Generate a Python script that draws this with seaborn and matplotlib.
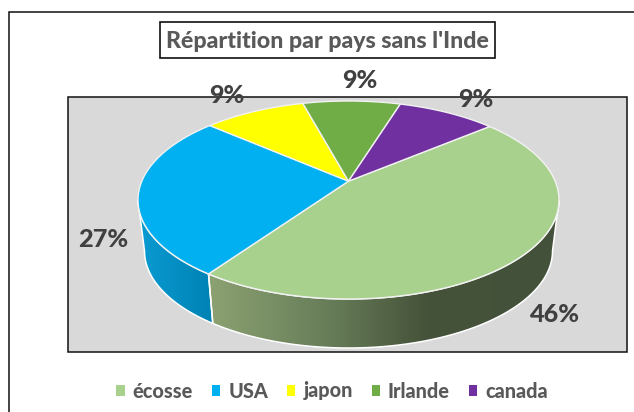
import numpy as np
import matplotlib
matplotlib.use("Agg")
import matplotlib.pyplot as plt
from matplotlib.patches import Patch, Polygon, Rectangle
from matplotlib.colors import to_rgb
import seaborn as sns

countries = ["écosse", "USA", "japon", "Irlande", "canada"]
shares = [45.8, 26.7, 9.4, 9.0, 9.1]
palette_hex = ["#A9D18E", "#00B0F0", "#FFFF00", "#70AD47", "#7030A0"]

title_text = "Répartition par pays sans l'Inde"
label_xy = [(555, 314.5), (103, 239.5), (227, 95.5), (360, 80.5), (476, 99.5)]

sns.set_theme(style="white")
plt.rcParams["font.family"] = ["Lato", "DejaVu Sans"]
colors = sns.color_palette(palette_hex)

fig, ax = plt.subplots(figsize=(6.34, 4.12), dpi=100)
ax.set_position([0, 0, 1, 1])
ax.axis("off")

START = 40.0
K = 0.19
TOP = dict(cx=348.5, cy=200.0, rx=210.5, ry=99.0)
BOT = dict(cx=348.5, cy=251.0, rx=204.0, ry=97.0)


def project(theta_deg, e):
    t = np.radians(theta_deg)
    x, y = np.cos(t), np.sin(t)
    d = 1 + K * y
    u = x * np.sqrt(1 - K ** 2) / d
    v = (y + K) / d
    return e["cx"] + e["rx"] * u, e["cy"] - e["ry"] * v


# frame and plot area
ax.add_patch(Rectangle((9, 12), 660, 440, fc="white", ec="#111111", lw=1.1, zorder=0))
ax.add_patch(Rectangle((68, 97), 559, 255, fc="#D9D9D9", ec="#111111", lw=1.1, zorder=1))

# angles of the slices, clockwise
edges = START - np.cumsum([0] + shares) / sum(shares) * 360.0
silhouette = np.degrees(np.arcsin(-K))

wall_specs = [
    (edges[1], silhouette, [(0.0, "#8CA272"), (0.35, "#667C58"), (0.62, "#46533A"), (1.0, "#44513A")]),
    (-180 - silhouette, edges[1], [(0.0, "#0A9BD2"), (1.0, "#0082B4")]),
]
for a0, a1, stops in wall_specs:
    th = np.linspace(a0, a1, 120)
    tx, ty = project(th, TOP)
    bx, by = project(th, BOT)
    px = np.r_[tx, bx[::-1]]
    py = np.r_[ty, by[::-1]]
    x0, x1 = px.min(), px.max()
    fr = np.linspace(0, 1, 256)
    pos = [s[0] for s in stops]
    rgb = np.array([to_rgb(s[1]) for s in stops])
    grad = np.stack([np.interp(fr, pos, rgb[:, i]) for i in range(3)], axis=-1)
    im = ax.imshow(grad[None, :, :], extent=(x0, x1, py.max(), py.min()),
                   aspect="auto", zorder=2, interpolation="bilinear")
    poly = Polygon(np.c_[px, py], closed=True, transform=ax.transData, fc="none", ec="none")
    ax.add_patch(poly)
    im.set_clip_path(poly)
    ax.add_patch(Polygon(np.c_[px, py], closed=True, fc="none", ec="white", lw=1.1, zorder=3))

# top face
apex = (TOP["cx"], TOP["cy"] - TOP["ry"] * K)
for i, c in enumerate(colors):
    th = np.linspace(edges[i], edges[i + 1], 100)
    x, y = project(th, TOP)
    ax.fill(np.r_[apex[0], x], np.r_[apex[1], y], color=c, ec="#F2F2F2", lw=1.0, zorder=4)

ax.set_xlim(0, 634)
ax.set_ylim(412, 0)

# percentage labels
for (lx, ly), s in zip(label_xy, shares):
    ax.text(lx, ly, f"{round(s)}%", ha="center", va="center", fontsize=18.2, fontweight=900,
            color="#404040", zorder=6)

# title
ax.add_patch(Rectangle((160, 22), 335, 36, fc="white", ec="#111111", lw=1.2, zorder=5))
ax.text(327.5, 41, title_text, ha="center", va="center", fontsize=16.7, fontweight=900,
        color="#595959", zorder=6)

# legend
handles = [Patch(fc=c, ec="none", label=n) for c, n in zip(colors, countries)]
leg = ax.legend(handles=handles, ncol=5, loc="center", bbox_to_anchor=(332 / 634, 1 - 391 / 412),
                frameon=False, fontsize=14.3, handlelength=0.42, handleheight=0.42,
                handletextpad=0.4, columnspacing=0.95, borderpad=0)
for t in leg.get_texts():
    t.set_color("#595959")
    t.set_fontweight(900)

fig.savefig("out.png", dpi=100)
